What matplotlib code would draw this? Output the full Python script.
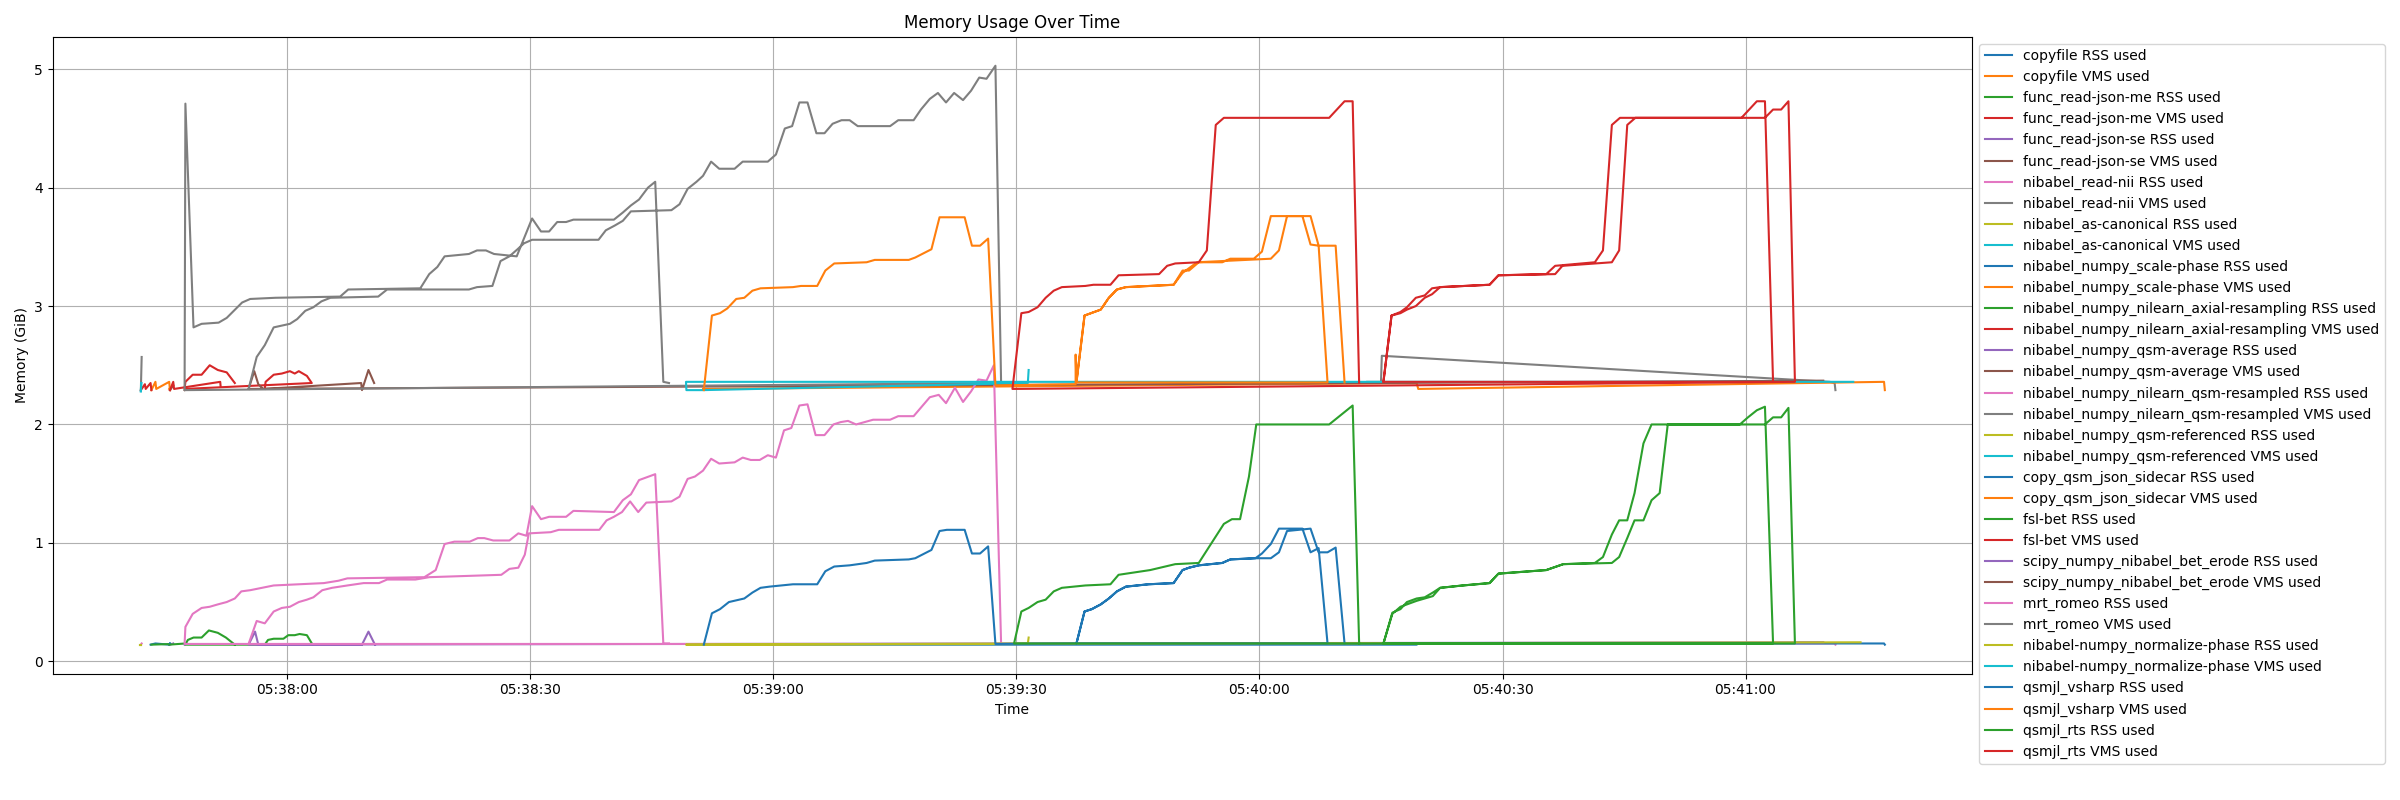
import pandas as pd
import matplotlib
matplotlib.use('Agg')
import matplotlib.pyplot as plt
import matplotlib.dates as mdates

# times are seconds after 05:38:00, values are GiB
start = pd.Timestamp('2024-01-01 05:38:00')

copyfile_rss_t = [-16.9, -16.3, -14.6, -14.5]
copyfile_rss_v = [0.14, 0.15, 0.14, 0.15]
copyfile_vms_t = [-16.8, -16.3, -16.2, -14.6, -14.5]
copyfile_vms_v = [2.29, 2.36, 2.30, 2.36, 2.29]

json_me_rss_t = [-16.8, -14.6]
json_me_rss_v = [0.14, 0.145]
json_me_vms_t = [-18.1, -17.6, -17.5, -16.9, -16.8]
json_me_vms_v = [2.29, 2.34, 2.30, 2.35, 2.29]

json_se_rss_t = [-14.5, -14.1]
json_se_rss_v = [0.14, 0.15]
json_se_vms_t = [-14.5, -14.1]
json_se_vms_v = [2.29, 2.33]

read_nii_rss_t = [-18.1, -18.0]
read_nii_rss_v = [0.14, 0.15]
read_nii_vms_t = [-18.1, -18.0]
read_nii_vms_v = [2.29, 2.57]

canonical_rss_t = [-18.2, -18.1]
canonical_rss_v = [0.14, 0.14]
canonical_vms_t = [-18.1, -18.05]
canonical_vms_v = [2.28, 2.35]

scale_rss_t = [-14.6, -14.5]
scale_rss_v = [0.14, 0.15]
scale_vms_t = [-14.6, -14.5]
scale_vms_v = [2.30, 2.31]

axial_rss_t = [-14.6, -12.6]
axial_rss_v = [0.14, 0.15]
axial_vms_t = [-14.5, -14.1, -14.0, -8.3, -8.25]
axial_vms_v = [2.29, 2.36, 2.30, 2.36, 2.32]

average_rss_t = [-12.7, -12.6]
average_rss_v = [0.14, 0.15]
average_vms_t = [-12.7, -12.6]
average_vms_v = [2.29, 2.30]

resampled_rss_t = [133.3, 135.0, 135.1, 190.4, 191.0, 191.1]
resampled_rss_v = [0.15, 0.15, 0.15, 0.15, 0.15, 0.14]
resampled_vms_t = [133.3, 135.0, 135.1, 190.4, 191.0, 191.1]
resampled_vms_v = [2.36, 2.36, 2.58, 2.36, 2.35, 2.29]

referenced_rss_t = [-18.2, -18.1]
referenced_rss_v = [0.14, 0.14]
referenced_vms_t = [-18.1, -18.05]
referenced_vms_v = [2.28, 2.35]

sidecar_rss_t = [51.3, 139.4, 139.6, 197.1, 197.2]
sidecar_rss_v = [0.14, 0.14, 0.15, 0.15, 0.14]
sidecar_vms_t = [51.3, 139.4, 139.6, 197.1, 197.2]
sidecar_vms_v = [2.30, 2.35, 2.30, 2.36, 2.29]

bet_rss_t = [-2.8, -2.4, -1.7, -0.5, 0.1, 0.9, 1.5, 2.4, 3.1,
             -12.6, -12.3, -11.6, -10.6, -9.7, -8.6, -7.6, -6.5]
bet_rss_v = [0.14, 0.18, 0.19, 0.19, 0.22, 0.22, 0.23, 0.22, 0.14,
             0.14, 0.18, 0.20, 0.20, 0.26, 0.24, 0.20, 0.14]
bet_vms_t = [-2.8, -2.7, -1.7, -0.7, 0.3, 0.9, 1.4, 2.4, 3.0,
             -12.7, -12.6, -11.7, -10.6, -9.6, -8.6, -7.5, -6.5]
bet_vms_v = [2.30, 2.36, 2.42, 2.43, 2.45, 2.43, 2.45, 2.41, 2.35,
             2.30, 2.36, 2.42, 2.42, 2.50, 2.46, 2.44, 2.35]

erode_rss_t = [189.6, -4.8, -4.0, -3.6, 9.2, 10.0, 10.8]
erode_rss_v = [0.16, 0.14, 0.25, 0.14, 0.14, 0.25, 0.14]
erode_vms_t = [189.6, -4.8, -4.1, -3.6, -3.0, 9.1, 9.2, 10.0, 10.7]
erode_vms_v = [2.37, 2.30, 2.45, 2.34, 2.30, 2.35, 2.29, 2.46, 2.35]

romeo_rss_t = [-4.8, -3.8, -2.8, -1.7, -0.7, 0.3, 1.4, 2.4, 3.2, 4.3, 5.5, 7.4,
               9.4, 11.3, 12.3, 15.8, 17.5, 26.4, 27.4, 28.5, 29.3, 29.8, 32.5,
               33.5, 38.5, 39.4, 40.3, 41.3, 42.3, 43.3, 44.3, 47.4, 48.4, 49.4,
               50.3, 51.3, 52.3, 53.3, 55.2, 56.2, 57.2, 58.3, 59.3, 60.3, 61.3,
               62.2, 63.2, 64.2, 65.2, 66.3, 67.4, 68.3, 69.2, 70.2, 72.3, 74.4,
               75.4, 77.3, 79.3, 80.4, 81.3, 82.4, 83.4, 84.4, 85.3, 86.3, 87.2,
               88.1,
               -12.7, -12.6, -11.7, -10.6, -9.6, -8.6, -7.5, -6.5, -5.7, -4.6,
               -1.7, 4.5, 6.3, 7.4, 16.9, 18.3, 19.4, 20.6, 22.5, 23.5, 24.3,
               25.4, 27.4, 28.5, 29.5, 30.2, 31.3, 32.3, 34.4, 35.3, 40.3, 41.4,
               42.4, 43.4, 45.4, 46.4, 47.1]
romeo_rss_v = [0.146, 0.34, 0.32, 0.42, 0.45, 0.46, 0.50, 0.52, 0.54, 0.60, 0.62, 0.64,
               0.66, 0.66, 0.69, 0.69, 0.71, 0.73, 0.78, 0.79, 0.90, 1.08, 1.09,
               1.11, 1.11, 1.19, 1.22, 1.26, 1.35, 1.26, 1.34, 1.35, 1.39, 1.54,
               1.56, 1.61, 1.71, 1.67, 1.68, 1.72, 1.70, 1.70, 1.74, 1.72, 1.95,
               1.97, 2.16, 2.17, 1.91, 1.91, 2.00, 2.02, 2.03, 2.00, 2.04, 2.04,
               2.07, 2.07, 2.23, 2.25, 2.18, 2.31, 2.19, 2.28, 2.38, 2.37, 2.50,
               0.146,
               0.146, 0.29, 0.40, 0.45, 0.46, 0.48, 0.50, 0.53, 0.59, 0.60,
               0.64, 0.66, 0.68, 0.70, 0.71, 0.77, 0.99, 1.01, 1.01, 1.04, 1.04,
               1.02, 1.02, 1.08, 1.06, 1.31, 1.20, 1.22, 1.22, 1.27, 1.26, 1.36,
               1.41, 1.53, 1.58, 0.15, 0.15]
romeo_vms_t = [-4.8, -3.8, -2.8, -1.7, 0.3, 1.2, 2.2, 3.2, 4.2, 5.3, 11.2, 12.3,
               22.4, 23.4, 25.3, 26.3, 27.4, 28.4, 29.2, 30.2, 38.4, 39.3, 40.4,
               41.4, 42.4, 47.4, 48.4, 49.4, 50.5, 51.3, 52.3, 53.3, 55.2, 56.2,
               59.3, 60.3, 61.4, 62.3, 63.2, 64.2, 65.3, 66.3, 67.3, 68.4, 69.4,
               70.4, 74.4, 75.4, 77.3, 78.2, 79.3, 80.3, 81.3, 82.3, 83.4, 84.4,
               85.4, 86.3, 87.4, 88.1,
               -12.7, -12.6, -11.6, -10.6, -8.5, -7.5, -5.6, -4.6, -1.5, 6.5, 7.5,
               16.4, 17.5, 18.5, 19.4, 22.4, 23.4, 24.5, 25.5, 28.3, 30.2, 31.3,
               32.3, 33.3, 34.4, 35.3, 40.3, 41.4, 42.4, 43.4, 44.5, 45.4, 46.4,
               47.1]
romeo_vms_v = [2.30, 2.57, 2.67, 2.82, 2.85, 2.89, 2.96, 2.99, 3.04, 3.07, 3.08, 3.14,
               3.14, 3.16, 3.17, 3.38, 3.42, 3.48, 3.53, 3.56, 3.56, 3.64, 3.68,
               3.72, 3.80, 3.81, 3.86, 3.99, 4.05, 4.10, 4.22, 4.16, 4.16, 4.22,
               4.22, 4.28, 4.50, 4.52, 4.72, 4.72, 4.46, 4.46, 4.54, 4.57, 4.57,
               4.52, 4.52, 4.57, 4.57, 4.66, 4.75, 4.80, 4.72, 4.80, 4.74, 4.82,
               4.93, 4.92, 5.03, 2.35,
               2.29, 4.71, 2.82, 2.85, 2.86, 2.90, 3.03, 3.06, 3.07, 3.08, 3.14,
               3.15, 3.27, 3.33, 3.42, 3.44, 3.47, 3.47, 3.44, 3.42, 3.74, 3.63,
               3.63, 3.71, 3.71, 3.73, 3.73, 3.79, 3.85, 3.90, 4.00, 4.05, 2.36,
               2.35]

normalize_rss_t = [194.2, 49.2, 51.3, 91.4, 91.5]
normalize_rss_v = [0.16, 0.14, 0.14, 0.15, 0.20]
normalize_vms_t = [193.3, 49.2, 49.25, 51.3, 91.4, 91.5]
normalize_vms_v = [2.36, 2.36, 2.29, 2.29, 2.35, 2.46]

vsharp_rss_t = [51.4, 52.4, 53.4, 54.5, 56.4, 57.4, 58.4, 59.5, 62.4, 65.4, 66.4, 67.5,
                69.4, 71.5, 72.5, 76.7, 77.5, 79.5, 80.5, 81.4, 83.6, 84.5, 85.5,
                86.5, 87.4,
                97.4, 98.4, 99.3, 100.4, 101.4, 102.4, 103.5, 106.3, 109.4, 110.5,
                111.3, 112.5, 115.4, 116.4, 119.5, 120.3, 121.4, 122.4, 125.3, 126.3,
                127.3, 128.4,
                97.4, 98.4, 99.3, 100.4, 101.4, 102.4, 103.5, 106.3, 109.4, 110.5,
                111.3, 112.5, 115.4, 116.4, 119.5, 121.4, 122.4, 123.4, 126.3, 127.3,
                128.4, 129.4, 130.5]
vsharp_rss_v = [0.14, 0.405, 0.44, 0.50, 0.53, 0.58, 0.62, 0.63, 0.65, 0.65, 0.76, 0.80,
                0.81, 0.83, 0.85, 0.86, 0.87, 0.94, 1.10, 1.11, 1.11, 0.91, 0.91,
                0.97, 0.146,
                0.15, 0.42, 0.44, 0.48, 0.53, 0.59, 0.63, 0.65, 0.66, 0.77,
                0.79, 0.81, 0.83, 0.86, 0.87, 0.91, 0.99, 1.12, 1.12, 0.92,
                0.955, 0.15,
                0.15, 0.42, 0.44, 0.48, 0.53, 0.59, 0.63, 0.65, 0.66, 0.77,
                0.79, 0.81, 0.83, 0.86, 0.87, 0.87, 0.92, 1.10, 1.12, 0.92,
                0.92, 0.96, 0.15]
vsharp_vms_t = [51.4, 52.4, 53.4, 54.3, 55.4, 56.4, 57.4, 58.4, 62.4, 63.4, 65.4, 66.4,
                67.5, 71.5, 72.5, 76.7, 77.5, 79.5, 80.5, 83.6, 84.5, 85.5, 86.5,
                87.4,
                97.3, 97.3, 97.4, 98.4, 100.4, 101.4, 102.4, 103.5, 109.4, 110.5,
                111.3, 112.5, 115.4, 116.4, 119.3, 120.3, 121.4, 125.3, 126.3, 127.3,
                128.4,
                97.4, 98.4, 100.4, 101.4, 102.4, 103.5, 109.4, 110.5, 112.3, 121.4,
                122.4, 123.4, 126.3, 127.3, 129.4, 130.5]
vsharp_vms_v = [2.29, 2.92, 2.94, 2.98, 3.06, 3.07, 3.13, 3.15, 3.16, 3.17, 3.17, 3.30,
                3.36, 3.37, 3.39, 3.39, 3.41, 3.48, 3.75, 3.75, 3.51, 3.51, 3.57,
                2.33,
                2.34, 2.59, 2.355, 2.92, 2.97, 3.07, 3.14, 3.16, 3.18, 3.30,
                3.30, 3.37, 3.37, 3.40, 3.40, 3.46, 3.76, 3.76, 3.52, 3.51,
                2.355,
                2.355, 2.92, 2.97, 3.07, 3.14, 3.16, 3.18, 3.28, 3.37, 3.40,
                3.47, 3.76, 3.76, 3.51, 3.51, 2.355]

rts_rss_t = [135.3, 136.4, 137.4, 138.2, 139.4, 140.4, 141.4, 142.3, 145.1, 148.4,
             149.5, 155.4, 157.5, 161.4, 162.4, 163.5, 164.4, 165.4, 166.3, 167.4,
             168.4, 179.3, 180.3, 181.4, 182.4, 183.4,
             135.3, 136.4, 137.4, 138.2, 139.4, 140.4, 141.4, 142.3, 145.1, 148.4,
             149.5, 155.4, 157.5, 163.5, 164.4, 165.4, 166.3, 167.4, 168.4, 169.4,
             170.4, 182.4, 183.4, 184.4, 185.3, 186.1,
             89.7, 90.6, 91.5, 92.6, 93.6, 94.6, 95.6, 98.5, 101.6, 102.6, 106.5,
             109.6, 112.5, 115.6, 116.6, 117.6, 118.7, 119.6, 128.6, 131.5, 132.3]
rts_rss_v = [0.15, 0.41, 0.44, 0.50, 0.53, 0.54, 0.58, 0.62, 0.64, 0.66,
             0.74, 0.77, 0.82, 0.83, 0.88, 1.07, 1.19, 1.19, 1.42, 1.84,
             2.00, 2.00, 2.06, 2.12, 2.15, 0.15,
             0.15, 0.40, 0.46, 0.48, 0.51, 0.53, 0.55, 0.62, 0.64, 0.66,
             0.74, 0.77, 0.82, 0.83, 0.88, 1.04, 1.19, 1.19, 1.36, 1.42,
             2.00, 2.00, 2.06, 2.06, 2.14, 0.15,
             0.15, 0.42, 0.45, 0.50, 0.52, 0.59, 0.62, 0.64, 0.65, 0.73, 0.77,
             0.82, 0.83, 1.16, 1.20, 1.20, 1.56, 2.00, 2.00, 2.16, 0.15]
rts_vms_t = [135.3, 136.3, 137.4, 138.2, 139.3, 140.4, 141.3, 142.3, 148.4, 149.5,
             155.4, 156.5, 161.4, 162.4, 163.5, 164.5, 179.5, 181.4, 182.4, 183.4,
             135.3, 136.3, 137.4, 138.2, 139.3, 140.4, 141.3, 142.3, 148.4, 149.5,
             156.5, 157.4, 163.5, 164.4, 165.4, 166.4, 182.4, 183.4, 184.4, 185.3,
             186.1,
             89.5, 90.6, 91.5, 92.6, 93.6, 94.6, 95.6, 98.5, 99.5, 101.6, 102.6,
             107.6, 108.6, 109.6, 112.5, 113.5, 114.6, 115.6, 128.6, 130.5, 131.5,
             132.3]
rts_vms_v = [2.36, 2.92, 2.95, 2.99, 3.07, 3.09, 3.15, 3.16, 3.18, 3.26,
             3.27, 3.34, 3.37, 3.47, 4.53, 4.59, 4.59, 4.73, 4.73, 2.36,
             2.36, 2.92, 2.94, 2.97, 3.00, 3.07, 3.10, 3.16, 3.18, 3.26,
             3.27, 3.34, 3.37, 3.47, 4.53, 4.59, 4.59, 4.66, 4.66, 4.73,
             2.36,
             2.30, 2.94, 2.95, 2.99, 3.07, 3.13, 3.16, 3.17, 3.18, 3.18, 3.26,
             3.27, 3.34, 3.36, 3.37, 3.47, 4.53, 4.59, 4.59, 4.73, 4.73,
             2.35]

series = [
    ('copyfile RSS used', copyfile_rss_t, copyfile_rss_v),
    ('copyfile VMS used', copyfile_vms_t, copyfile_vms_v),
    ('func_read-json-me RSS used', json_me_rss_t, json_me_rss_v),
    ('func_read-json-me VMS used', json_me_vms_t, json_me_vms_v),
    ('func_read-json-se RSS used', json_se_rss_t, json_se_rss_v),
    ('func_read-json-se VMS used', json_se_vms_t, json_se_vms_v),
    ('nibabel_read-nii RSS used', read_nii_rss_t, read_nii_rss_v),
    ('nibabel_read-nii VMS used', read_nii_vms_t, read_nii_vms_v),
    ('nibabel_as-canonical RSS used', canonical_rss_t, canonical_rss_v),
    ('nibabel_as-canonical VMS used', canonical_vms_t, canonical_vms_v),
    ('nibabel_numpy_scale-phase RSS used', scale_rss_t, scale_rss_v),
    ('nibabel_numpy_scale-phase VMS used', scale_vms_t, scale_vms_v),
    ('nibabel_numpy_nilearn_axial-resampling RSS used', axial_rss_t, axial_rss_v),
    ('nibabel_numpy_nilearn_axial-resampling VMS used', axial_vms_t, axial_vms_v),
    ('nibabel_numpy_qsm-average RSS used', average_rss_t, average_rss_v),
    ('nibabel_numpy_qsm-average VMS used', average_vms_t, average_vms_v),
    ('nibabel_numpy_nilearn_qsm-resampled RSS used', resampled_rss_t, resampled_rss_v),
    ('nibabel_numpy_nilearn_qsm-resampled VMS used', resampled_vms_t, resampled_vms_v),
    ('nibabel_numpy_qsm-referenced RSS used', referenced_rss_t, referenced_rss_v),
    ('nibabel_numpy_qsm-referenced VMS used', referenced_vms_t, referenced_vms_v),
    ('copy_qsm_json_sidecar RSS used', sidecar_rss_t, sidecar_rss_v),
    ('copy_qsm_json_sidecar VMS used', sidecar_vms_t, sidecar_vms_v),
    ('fsl-bet RSS used', bet_rss_t, bet_rss_v),
    ('fsl-bet VMS used', bet_vms_t, bet_vms_v),
    ('scipy_numpy_nibabel_bet_erode RSS used', erode_rss_t, erode_rss_v),
    ('scipy_numpy_nibabel_bet_erode VMS used', erode_vms_t, erode_vms_v),
    ('mrt_romeo RSS used', romeo_rss_t, romeo_rss_v),
    ('mrt_romeo VMS used', romeo_vms_t, romeo_vms_v),
    ('nibabel-numpy_normalize-phase RSS used', normalize_rss_t, normalize_rss_v),
    ('nibabel-numpy_normalize-phase VMS used', normalize_vms_t, normalize_vms_v),
    ('qsmjl_vsharp RSS used', vsharp_rss_t, vsharp_rss_v),
    ('qsmjl_vsharp VMS used', vsharp_vms_t, vsharp_vms_v),
    ('qsmjl_rts RSS used', rts_rss_t, rts_rss_v),
    ('qsmjl_rts VMS used', rts_vms_t, rts_vms_v),
]

fig, ax = plt.subplots(figsize=(24, 8), dpi=100)
for label, t, v in series:
    times = start + pd.to_timedelta(t, unit='s')
    ax.plot(times, v, label=label)

ax.xaxis.set_major_locator(mdates.SecondLocator(bysecond=[0, 30]))
ax.xaxis.set_major_formatter(mdates.DateFormatter('%H:%M:%S'))
ax.set_title('Memory Usage Over Time')
ax.set_xlabel('Time')
ax.set_ylabel('Memory (GiB)')
ax.grid(True)
ax.legend(loc='upper left', bbox_to_anchor=(1, 1))

fig.subplots_adjust(left=0.022, right=0.8217, top=0.954, bottom=0.158)
fig.savefig('out.png')
